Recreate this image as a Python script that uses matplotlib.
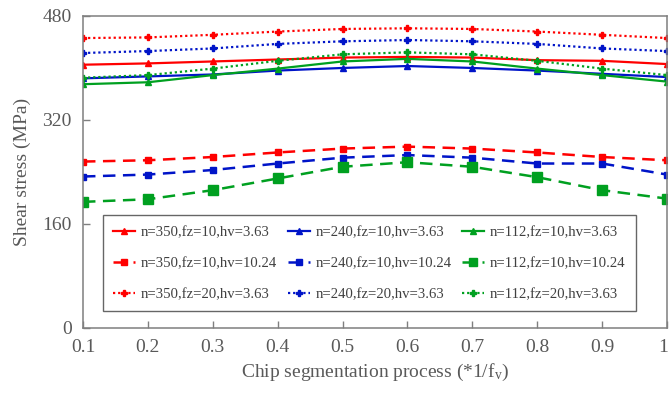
import matplotlib.pyplot as plt
from matplotlib.transforms import ScaledTranslation

plt.rcParams['font.family'] = ['Liberation Serif', 'DejaVu Serif']
plt.rcParams['mathtext.default'] = 'regular'

#chip segmentation process steps
steps = [0.1, 0.2, 0.3, 0.4, 0.5, 0.6, 0.7, 0.8, 0.9, 1.0]
step_labels = ['0.1', '0.2', '0.3', '0.4', '0.5', '0.6', '0.7', '0.8', '0.9', '1']

#shear stress (MPa), fz=10, hv=3.63
n350_fz10_hv363 = [405, 407, 410, 413, 416, 417, 416, 412, 411, 406]
n240_fz10_hv363 = [384, 387, 390, 396, 400, 403, 400, 396, 391, 386]
n112_fz10_hv363 = [375, 378, 389, 399, 410, 414, 410, 399, 389, 379]

#fz=10, hv=10.24
n350_fz10_hv1024 = [256, 258, 263, 270, 276, 279, 276, 270, 263, 258]
n240_fz10_hv1024 = [233, 236, 243, 253, 262, 266, 262, 253, 253, 236]
n112_fz10_hv1024 = [194, 198, 212, 230, 248, 255, 248, 232, 212, 199]

#fz=20, hv=3.63
n350_fz20_hv363 = [446, 447, 451, 456, 460, 461, 460, 456, 451, 446]
n240_fz20_hv363 = [423, 426, 430, 437, 441, 443, 441, 437, 430, 426]
n112_fz20_hv363 = [385, 389, 399, 411, 421, 424, 421, 411, 399, 389]

labels = ['n=350,fz=10,hv=3.63', 'n=240,fz=10,hv=3.63', 'n=112,fz=10,hv=3.63',
          'n=350,fz=10,hv=10.24', 'n=240,fz=10,hv=10.24', 'n=112,fz=10,hv=10.24',
          'n=350,fz=20,hv=3.63', 'n=240,fz=20,hv=3.63', 'n=112,fz=20,hv=3.63']

red, blue, green = '#ff0000', '#0014c8', '#00a020'
dash = (0, (5, 3))
dot = (0, (1, 1.3))

fig = plt.figure(figsize=(6.69, 3.99), dpi=100)
ax = fig.add_axes([0.124, 0.178, 0.873, 0.782])

h = []
h += ax.plot(steps, n350_fz10_hv363, color=red, lw=1.6, marker='^', ms=5, label=labels[0])
h += ax.plot(steps, n240_fz10_hv363, color=blue, lw=1.6, marker='^', ms=5, label=labels[1])
h += ax.plot(steps, n112_fz10_hv363, color=green, lw=1.6, marker='^', ms=5, label=labels[2])
h += ax.plot(steps, n350_fz10_hv1024, color=red, lw=1.8, ls=dash, marker='s', ms=5, label=labels[3])
h += ax.plot(steps, n240_fz10_hv1024, color=blue, lw=1.8, ls=dash, marker='s', ms=5, label=labels[4])
h += ax.plot(steps, n112_fz10_hv1024, color=green, lw=1.8, ls=dash, marker='s', ms=6.5, label=labels[5])
h += ax.plot(steps, n350_fz20_hv363, color=red, lw=1.6, ls=dot, marker='P', ms=5, label=labels[6])
h += ax.plot(steps, n240_fz20_hv363, color=blue, lw=1.6, ls=dot, marker='P', ms=5, label=labels[7])
h += ax.plot(steps, n112_fz20_hv363, color=green, lw=1.6, ls=dot, marker='P', ms=5, label=labels[8])

ax.set_xlim(0.1, 1.0)
ax.set_ylim(0, 480)
ax.set_xticks(steps)
ax.set_xticklabels(step_labels)
ax.set_yticks([0, 160, 320, 480])

for sp in ax.spines.values():
    sp.set_color('#7f7f7f')
    sp.set_linewidth(1.1)
ax.tick_params(direction='in', length=5, width=1, color='#7f7f7f',
               labelsize=14, labelcolor='#595959', pad=8)

#nudge the last x label so it stays inside the figure
last = ax.get_xticklabels()[-1]
last.set_transform(last.get_transform() + ScaledTranslation(-4 / 100, 0, fig.dpi_scale_trans))

ax.set_xlabel('Chip segmentation process (*1/f$_{v}$)', fontsize=14, color='#595959', labelpad=4)
ax.set_ylabel('Shear stress (MPa)', fontsize=14, color='#595959', labelpad=8)

#legend is filled column by column, so reorder to get one row per condition
order = [0, 3, 6, 1, 4, 7, 2, 5, 8]
leg = ax.legend([h[i] for i in order], [labels[i] for i in order],
                ncol=3, loc='lower left', bbox_to_anchor=(0.034, 0.054), borderaxespad=0,
                fontsize=10.6, frameon=True, fancybox=False, edgecolor='#404040',
                handlelength=1.5, handletextpad=0.4, columnspacing=0.7, labelspacing=1.2,
                markerscale=0.9, borderpad=0.7)
leg.get_frame().set_linewidth(1.0)
for t in leg.get_texts():
    t.set_color('#404040')

plt.savefig('out.png', dpi=100)
